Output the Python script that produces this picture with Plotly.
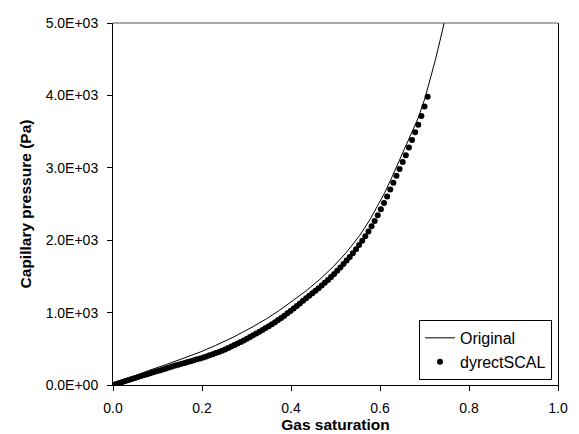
import plotly.graph_objects as go

# Original curve (gas saturation, capillary pressure Pa)
orig_s = [0.000, 0.020, 0.045, 0.080, 0.121, 0.160, 0.196, 0.230, 0.270, 0.310,
          0.345, 0.375, 0.405, 0.435, 0.465, 0.495, 0.525, 0.555, 0.578, 0.600,
          0.611, 0.626, 0.641, 0.656, 0.671, 0.686, 0.701, 0.712, 0.724, 0.735, 0.746]
orig_p = [0, 50, 115, 200, 285, 370, 455, 545, 660, 790,
          915, 1035, 1165, 1305, 1460, 1635, 1835, 2070, 2290, 2530,
          2660, 2860, 3062, 3269, 3476, 3690, 3960, 4200, 4480, 4760, 5050]

# dyrectSCAL points
dyr_s = [0.000, 0.007, 0.014, 0.021, 0.028, 0.035, 0.042, 0.049, 0.056, 0.063,
         0.070, 0.077, 0.084, 0.091, 0.098, 0.105, 0.112, 0.119, 0.126, 0.133,
         0.140, 0.147, 0.154, 0.161, 0.168, 0.175, 0.182, 0.189, 0.196, 0.203,
         0.210, 0.217, 0.224, 0.231, 0.238, 0.245, 0.252, 0.259, 0.266, 0.273,
         0.280, 0.287, 0.294, 0.301, 0.308, 0.315, 0.322, 0.329, 0.336, 0.343,
         0.350, 0.357, 0.364, 0.371, 0.378, 0.385, 0.392, 0.399, 0.406, 0.413,
         0.420, 0.427, 0.434, 0.441, 0.448, 0.455, 0.462, 0.469, 0.476, 0.483,
         0.490, 0.497, 0.504, 0.511, 0.518, 0.525, 0.532, 0.539, 0.546, 0.553,
         0.560, 0.567, 0.574, 0.581, 0.588, 0.595, 0.602, 0.609, 0.616, 0.623,
         0.630, 0.637, 0.644, 0.651, 0.658, 0.665, 0.672, 0.679, 0.686, 0.693,
         0.700, 0.707]
dyr_p = [0, 14, 28, 42, 56, 70, 84, 98, 111, 124,
         137, 150, 163, 176, 189, 202, 215, 229, 242, 255,
         268, 280, 292, 304, 316, 328, 341, 354, 367, 381,
         395, 410, 425, 441, 457, 474, 492, 511, 531, 551,
         572, 594, 616, 639, 662, 686, 710, 735, 760, 786,
         812, 840, 868, 897, 927, 958, 990, 1023, 1057, 1092,
         1127, 1162, 1197, 1232, 1267, 1302, 1338, 1375, 1413, 1452,
         1492, 1534, 1578, 1623, 1670, 1718, 1768, 1820, 1875, 1932,
         1992, 2055, 2121, 2191, 2265, 2344, 2428, 2515, 2605, 2700,
         2795, 2890, 2985, 3080, 3175, 3280, 3385, 3490, 3595, 3715,
         3845, 3980]

x_ticks = [0.0, 0.2, 0.4, 0.6, 0.8, 1.0]
x_ticklabels = ["0.0", "0.2", "0.4", "0.6", "0.8", "1.0"]
y_ticks = [0, 1000, 2000, 3000, 4000, 5000]
y_ticklabels = ["0.0E+00", "1.0E+03", "2.0E+03", "3.0E+03", "4.0E+03", "5.0E+03"]

font_family = "Liberation Sans, Arial, sans-serif"

fig = go.Figure()
fig.add_trace(go.Scatter(x=orig_s, y=orig_p, mode="lines", name="Original",
                         line=dict(color="black", width=1)))
fig.add_trace(go.Scatter(x=dyr_s, y=dyr_p, mode="markers", name="dyrectSCAL",
                         marker=dict(color="black", size=6, symbol="circle")))

# the page body has an 8px margin, so the figure is sized/offset to compensate
fig.update_layout(
    width=571, height=426,
    margin=dict(l=105, r=21, t=15, b=49, autoexpand=False),
    paper_bgcolor="white", plot_bgcolor="white",
    font=dict(family=font_family, size=14, color="black"),
    showlegend=True,
    legend=dict(x=0.9865, y=0.014, xanchor="right", yanchor="bottom",
                bgcolor="white", bordercolor="black", borderwidth=1,
                font=dict(size=16), tracegroupgap=0, itemwidth=30),
    xaxis=dict(range=[0, 1], tickvals=x_ticks, ticktext=x_ticklabels,
               tickfont=dict(size=14),
               showgrid=False, zeroline=False, showline=True, linecolor="black",
               linewidth=1, ticks="outside", ticklen=5, tickcolor="black",
               mirror=False, ticklabelstandoff=5, automargin=False,
               title=dict(text="<b>Gas saturation</b>", font=dict(size=15.5), standoff=0)),
    yaxis=dict(range=[0, 5000], tickvals=y_ticks, ticktext=y_ticklabels,
               tickfont=dict(size=14),
               showgrid=False, zeroline=False, showline=True, linecolor="black",
               linewidth=1, ticks="outside", ticklen=5, tickcolor="black",
               mirror=True, ticklabelstandoff=6, automargin=False,
               title=dict(text="<b>Capillary pressure (Pa)</b>", font=dict(size=15.5), standoff=10)),
    shapes=[dict(type="line", xref="paper", yref="paper", x0=0, x1=1, y0=1, y1=1,
                 line=dict(color="#555555", width=1))],
)

fig.write_html("out.html")
